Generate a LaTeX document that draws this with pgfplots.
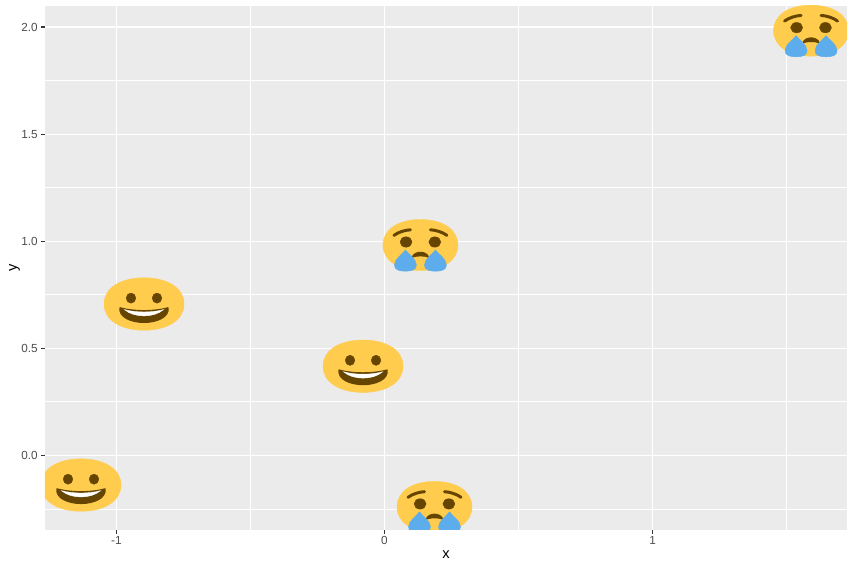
\documentclass[border=0pt]{standalone}
\usepackage{fontspec}
\setmainfont{Liberation Sans}
\usepackage{pgfplots}
\pgfplotsset{compat=1.18}
\definecolor{panelbg}{HTML}{EBEBEB}
\definecolor{tickc}{HTML}{333333}
\definecolor{ticklab}{HTML}{4D4D4D}
\definecolor{face}{HTML}{FFCC4D}
\definecolor{brownc}{HTML}{664500}
\definecolor{tear}{HTML}{5DADEC}
\pgfdeclareplotmark{smile}{%
  \begin{scope}[x=1pt,y=1pt]
  \fill[face] (-40,0) .. controls (-40,15.7) and (-24,26.2) .. (0,26.2)
     .. controls (24,26.2) and (40,15.7) .. (40,0)
     .. controls (40,-15.7) and (24,-26.2) .. (0,-26.2)
     .. controls (-24,-26.2) and (-40,-15.7) .. (-40,0) -- cycle;
  \fill[brownc] (-13,5.9) ellipse [x radius=4.8pt,y radius=5.1pt];
  \fill[brownc] (13,5.9) ellipse [x radius=4.8pt,y radius=5.1pt];
  \filldraw[brownc,line width=1.2pt,line join=round] (-24,-3.8) .. controls (-10,-7.6) and (10,-7.6) .. (24,-3.8)
     .. controls (25.5,-13) and (13,-18.4) .. (0,-18.4) .. controls (-13,-18.4) and (-25.5,-13) .. (-24,-3.8) -- cycle;
  \fill[white] (-19.5,-5.6) .. controls (-8,-8.8) and (8,-8.8) .. (19.5,-5.6)
     .. controls (10,-14) and (-10,-14) .. (-19.5,-5.6) -- cycle;
  \end{scope}
}
\pgfdeclareplotmark{sad}{%
  \begin{scope}[x=1pt,y=1pt]
  \fill[face] (-37.5,0) .. controls (-37.5,15.3) and (-22.5,25.5) .. (0,25.5)
     .. controls (22.5,25.5) and (37.5,15.3) .. (37.5,0)
     .. controls (37.5,-15.3) and (22.5,-25.5) .. (0,-25.5)
     .. controls (-22.5,-25.5) and (-37.5,-15.3) .. (-37.5,0) -- cycle;
  \fill[brownc] (-14.4,3) ellipse [x radius=6pt,y radius=5.2pt];
  \fill[brownc] (14.4,3) ellipse [x radius=6pt,y radius=5.2pt];
  \draw[brownc,line width=3pt,line cap=round] (-26.5,9.6) .. controls (-22,13) and (-15,15) .. (-10,15.2);
  \draw[brownc,line width=3pt,line cap=round] (26.5,9.6) .. controls (22,13) and (15,15) .. (10,15.2);
  \filldraw[brownc,line width=1pt,line join=round] (-8.3,-12.2) .. controls (-6,-5.6) and (6,-5.6) .. (8.3,-12.2) .. controls (4,-10.4) and (-4,-10.4) .. (-8.3,-12.2) -- cycle;
  \fill[tear] (-15,-5) .. controls (-18.5,-9.5) and (-26,-14) .. (-26,-20)
     .. controls (-26,-25) and (-21,-26.2) .. (-15,-26.2)
     .. controls (-9,-26.2) and (-4,-25) .. (-4,-20) .. controls (-4,-14) and (-11.5,-9.5) .. (-15,-5) -- cycle;
  \fill[tear] (15,-5) .. controls (18.5,-9.5) and (26,-14) .. (26,-20)
     .. controls (26,-25) and (21,-26.2) .. (15,-26.2)
     .. controls (9,-26.2) and (4,-25) .. (4,-20) .. controls (4,-14) and (11.5,-9.5) .. (15,-5) -- cycle;
  \end{scope}
}
\begin{document}
\begin{tikzpicture}[x=1pt,y=1pt]
\path[use as bounding box] (-45,-39.3) rectangle (809,529.7);
\begin{axis}[
  at={(0pt,0pt)}, anchor=south west,
  scale only axis, width=802pt, height=524pt,
  xmin=-1.2663, xmax=1.7251, ymin=-0.3474, ymax=2.0995,
  axis background/.style={fill=panelbg},
  axis line style={draw=none},
  xtick={-1,0,1}, xticklabels={-1,0,1},
  ytick={0,0.5,1,1.5,2}, yticklabels={0.0,0.5,1.0,1.5,2.0},
  extra x ticks={-0.5,0.5,1.5},
  extra x tick labels={},
  extra x tick style={major tick length=0pt, major tick style={draw=none},
     major grid style={draw=white,line width=0.55pt}},
  extra y ticks={-0.25,0.25,0.75,1.25,1.75},
  extra y tick labels={},
  extra y tick style={major tick length=0pt, major tick style={draw=none},
     major grid style={draw=white,line width=0.55pt}},
  xtick pos=bottom, ytick pos=left,
  tick align=outside,
  major tick length=4.2pt,
  major tick style={draw=none},
  xmajorgrids, ymajorgrids,
  major grid style={draw=white,line width=1.07pt},
  tick label style={font=\fontsize{11.73}{13}\selectfont,text=ticklab},
  xticklabel style={yshift=1pt},
  yticklabel style={xshift=0.5pt},
  xlabel={x}, ylabel={y},
  label style={font=\fontsize{14.67}{16}\selectfont,text=black},
  xlabel style={at={(axis description cs:0.5,0)},anchor=base,yshift=-29pt},
  ylabel style={at={(axis description cs:0,0.5)},anchor=base,rotate=0,xshift=0pt,yshift=28pt},
  clip=true, clip marker paths=true,
]
\addplot[only marks, mark=smile] coordinates {(-0.897,0.7065) (-0.080,0.416) (-1.132,-0.139)};
\addplot[only marks, mark=sad] coordinates {(0.134,0.982) (0.1865,-0.241) (1.591,1.983)};
\end{axis}
\begin{axis}[
  at={(0pt,0pt)}, anchor=south west,
  scale only axis, width=802pt, height=524pt,
  xmin=-1.2663, xmax=1.7251, ymin=-0.3474, ymax=2.0995,
  axis line style={draw=none},
  xtick={-1,0,1}, xticklabels={,,},
  ytick={0,0.5,1,1.5,2}, yticklabels={,,,,},
  xtick pos=bottom, ytick pos=left,
  tick align=outside,
  major tick length=4.2pt,
  tick style={color=tickc,line width=1.07pt},
]
\end{axis}
\end{tikzpicture}
\end{document}
